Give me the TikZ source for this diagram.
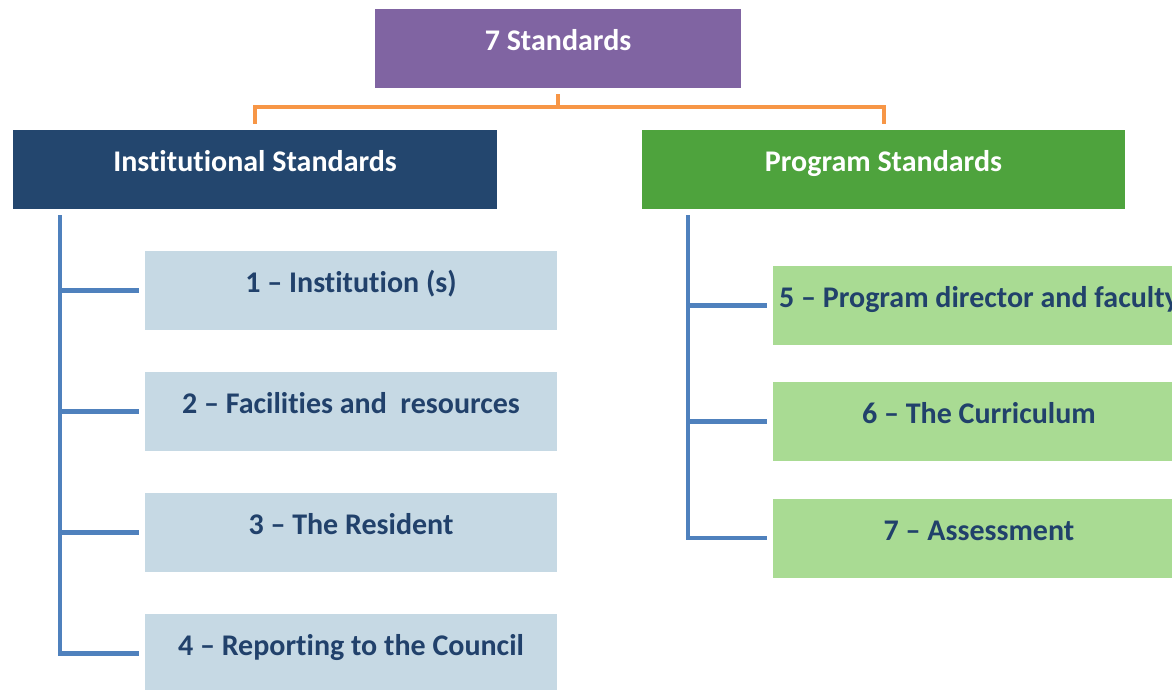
\documentclass[tikz,border=0pt]{standalone}
\usepackage{fontspec}
\setmainfont{Carlito}[Ligatures=NoCommon]
\definecolor{cpurple}{HTML}{8064A2}
\definecolor{cnavy}{HTML}{23466E}
\definecolor{cgreen}{HTML}{4EA33D}
\definecolor{clblue}{HTML}{C6D9E4}
\definecolor{clgreen}{HTML}{A9DB93}
\definecolor{ctext}{HTML}{21416B}
\definecolor{cline}{HTML}{4F81BD}
\definecolor{corange}{HTML}{F79646}
\begin{document}
\begin{tikzpicture}[x=0.5pt,y=-0.5pt,
  box/.style={rectangle, inner sep=0pt, minimum height=39.5pt, font=\fontsize{15}{17}\selectfont\bfseries, text height=10pt, text depth=8pt},
  headbox/.style={box, text=white},
  subbox/.style={box, text=ctext, minimum width=206pt},
  oline/.style={draw=corange, line width=2pt},
  bline/.style={draw=cline, line width=2.2pt}
]
\useasboundingbox (0,0) rectangle (1172,690);
\clip (0,0) rectangle (1172,690);
\fill[white] (0,0) rectangle (1172,690);

\node[headbox, fill=cpurple, minimum width=183pt] (top) at (558,48.5) {7 Standards};
\node[headbox, fill=cnavy, minimum width=242pt] (inst) at (255,169.5) {Institutional Standards};
\node[headbox, fill=cgreen, minimum width=241.5pt] (prog) at (883.5,169.5) {Program Standards};

\node[subbox, fill=clblue] (b1) at (351,290.5) {1 – Institution (s)};
\node[subbox, fill=clblue] (b2) at (351,411.5) {2 – Facilities and\ \ resources};
\node[subbox, fill=clblue] (b3) at (351,532.5) {3 – The Resident};
\node[subbox, fill=clblue] (b4) at (351,653.5) {4 – Reporting to the Council};

\node[subbox, fill=clgreen] (b5) at (979,305.5) {5 – Program director and faculty};
\node[subbox, fill=clgreen] (b6) at (979,421.5) {6 – The Curriculum};
\node[subbox, fill=clgreen] (b7) at (979,538) {7 – Assessment};

% orange connectors
\coordinate (bus) at (558,107);
\draw[oline, shorten <=3pt] (top.south) -- (bus);
\draw[oline, shorten <=3pt, shorten >=3pt] (inst.north) |- (bus) -| (prog.north);

% blue trees
\coordinate (lspine) at (60,215);
\coordinate (rspine) at (688,215);
\draw[bline, shorten >=3pt] (lspine) |- (b4.west);
\foreach \b in {b1,b2,b3} \draw[bline, shorten >=3pt] (lspine |- \b.west) -- (\b.west);
\draw[bline, shorten >=3pt] (rspine) |- (b7.west);
\foreach \b in {b5,b6} \draw[bline, shorten >=3pt] (rspine |- \b.west) -- (\b.west);
\end{tikzpicture}
\end{document}
